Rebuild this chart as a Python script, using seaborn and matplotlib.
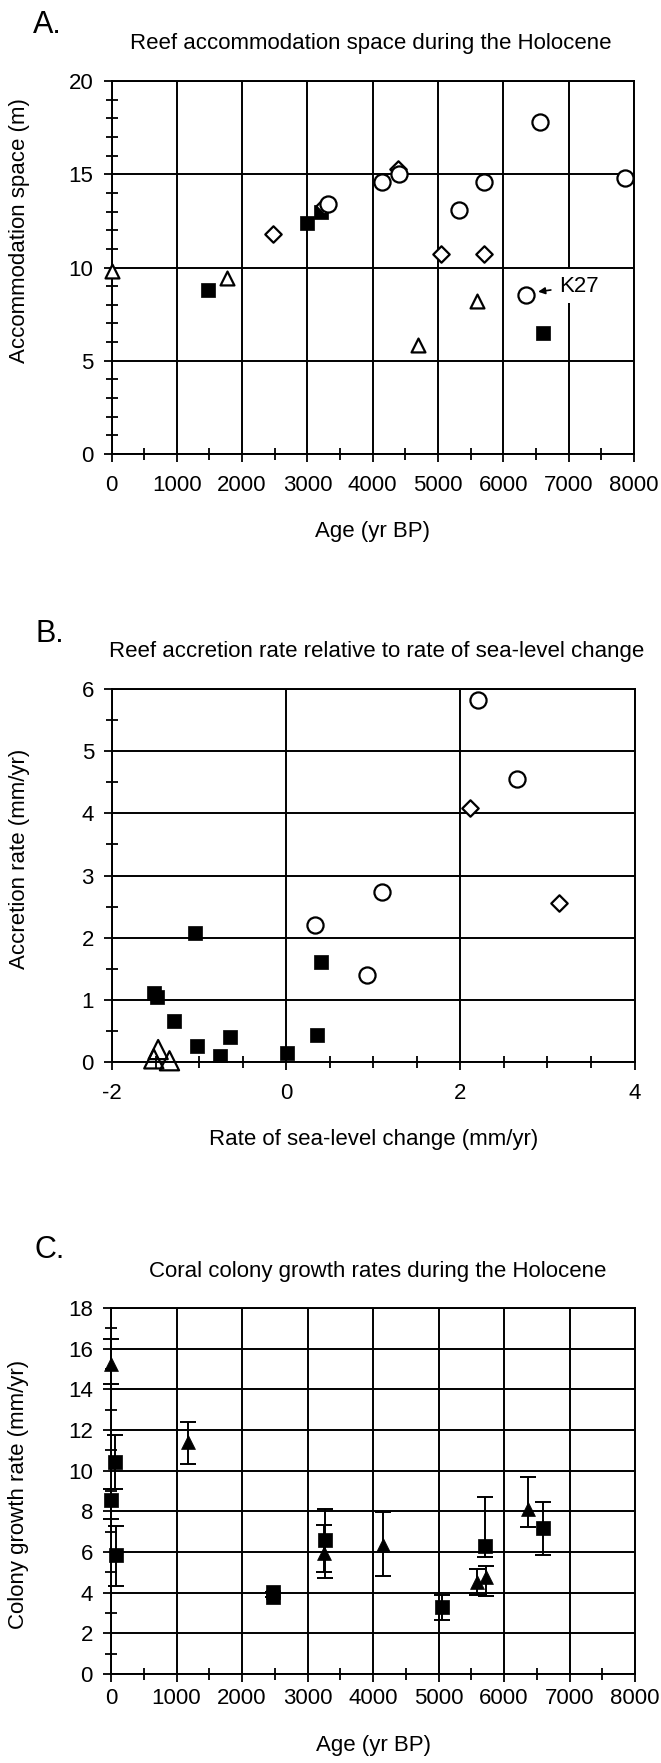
import matplotlib
matplotlib.use("Agg")
import matplotlib.pyplot as plt
from matplotlib.ticker import MultipleLocator
import seaborn as sns
import numpy as np

# ---- Panel A: reef accommodation space vs age ----
a_tri_age = [0, 1774, 4697, 5600]
a_tri_space = [9.8, 9.45, 5.85, 8.2]
a_sq_age = [1471, 2987, 3207, 6600]
a_sq_space = [8.78, 12.36, 13.0, 6.48]
a_dia_age = [2471, 3258, 4387, 5039, 5710]
a_dia_space = [11.8, 13.3, 15.3, 10.7, 10.7]
a_circ_age = [3310, 4142, 4407, 5323, 5710, 6342, 6568, 7858]
a_circ_space = [13.4, 14.6, 15.0, 13.1, 14.6, 8.55, 17.8, 14.8]
k27_index = 5

# ---- Panel B: accretion rate vs rate of sea-level change ----
b_sq_slr = [-1.047, -1.516, -1.482, -1.284, -1.023, -0.756, -0.645, 0.008, 0.357, 0.395]
b_sq_acc = [2.07, 1.11, 1.05, 0.655, 0.25, 0.09, 0.40, 0.145, 0.43, 1.61]
b_tri_slr = [-1.52, -1.47, -1.34]
b_tri_acc = [0.05, 0.20, 0.02]
b_circ_slr = [2.205, 2.645, 1.097, 0.332, 0.923]
b_circ_acc = [5.83, 4.55, 2.73, 2.20, 1.40]
b_dia_slr = [2.113, 3.129]
b_dia_acc = [4.09, 2.55]

# ---- Panel C: coral colony growth rates ----
c_tri_age = [0, 1177, 3250, 4148, 5595, 5722, 6364]
c_tri_rate = [15.26, 11.4, 5.93, 6.33, 4.52, 4.77, 8.12]
c_tri_low = [14.25, 10.34, 5.03, 4.82, 3.87, 3.82, 7.22]
c_tri_high = [16.5, 12.39, 7.32, 7.98, 5.18, 5.3, 9.71]
c_sq_age = [0, 60, 80, 2475, 2475, 3267, 5048, 5711, 6590]
c_sq_rate = [8.56, 10.44, 5.83, 3.78, 4.02, 6.58, 3.30, 6.28, 7.17]
c_sq_low = [7.6, 9.11, 4.32, 3.78, 4.02, 4.70, 2.64, 5.75, 5.86]
c_sq_high = [9.11, 11.77, 7.29, 3.78, 4.02, 8.13, 3.90, 8.70, 8.45]

W, H = 661, 1763
sns.set_theme(style="white")
plt.rcParams["font.family"] = ["Liberation Sans", "DejaVu Sans"]
plt.rcParams["axes.unicode_minus"] = False
plt.rcParams["text.color"] = "black"
plt.rcParams["axes.labelcolor"] = "black"

fig = plt.figure(figsize=(W / 100, H / 100), dpi=100)


def add_ax(left, right, top, bottom):
    return fig.add_axes([left / W, 1 - bottom / H, (right - left) / W, (bottom - top) / H])


def style_axis(ax, xmaj, xmin, ymaj, ymin, xpad):
    ax.xaxis.set_major_locator(MultipleLocator(xmaj))
    ax.xaxis.set_minor_locator(MultipleLocator(xmin))
    ax.yaxis.set_major_locator(MultipleLocator(ymaj))
    ax.yaxis.set_minor_locator(MultipleLocator(ymin))
    ax.grid(which="major", color="black", lw=1.4)
    ax.grid(which="minor", visible=False)
    ax.set_axisbelow(True)
    for s in ax.spines.values():
        s.set_visible(True)
        s.set_color("black")
        s.set_linewidth(1.4)
    ax.tick_params(which="major", direction="out", length=6, width=1.3,
                   labelsize=16, colors="black", bottom=True, left=True)
    ax.tick_params(which="minor", direction="inout", length=9, width=1.3,
                   colors="black", bottom=True, left=True)
    ax.tick_params(axis="y", which="major", pad=7)
    ax.tick_params(axis="x", which="major", pad=xpad)


def labels(ax, xlabel, ylabel, xl_y, yl_y):
    ax.set_xlabel(xlabel, fontsize=16)
    ax.set_ylabel(ylabel, fontsize=16)
    ax.xaxis.set_label_coords(0.5, xl_y)
    ax.xaxis.label.set_va("center")
    ax.yaxis.set_label_coords(-0.177, yl_y)
    ax.yaxis.label.set_va("center")


open_kw = dict(edgecolor="black", linewidth=1.6, clip_on=False, zorder=3)

# ================= A =================
axA = add_ax(111.5, 634, 81, 454)
sns.scatterplot(x=a_sq_age, y=a_sq_space, marker="s", s=95, color="black",
                edgecolor="black", linewidth=0.5, ax=axA, zorder=3)
sns.scatterplot(x=a_dia_age, y=a_dia_space, marker="D", s=70, facecolors="white", ax=axA, **open_kw)
sns.scatterplot(x=a_circ_age, y=a_circ_space, marker="o", s=135, facecolors="white", ax=axA, **open_kw)
sns.scatterplot(x=a_tri_age, y=a_tri_space, marker="^", s=100, facecolors="white", ax=axA, **open_kw)
axA.set_xlim(0, 8000)
axA.set_ylim(0, 20)
style_axis(axA, 1000, 500, 5, 1, 9)
labels(axA, "Age (yr BP)", "Accommodation space (m)", -0.207, 0.60)
axA.annotate("K27", xy=(a_circ_age[k27_index] + 190, a_circ_space[k27_index] + 0.15),
             xytext=(6850, 9.0), fontsize=16, ha="left", va="center",
             bbox=dict(boxstyle="square,pad=0.3", fc="white", ec="none"),
             arrowprops=dict(arrowstyle="-|>", color="black", lw=1.2,
                             mutation_scale=10, shrinkA=1, shrinkB=0), zorder=4)

# ================= B =================
axB = add_ax(112, 634.5, 689, 1062)
sns.scatterplot(x=b_sq_slr, y=b_sq_acc, marker="s", s=95, color="black",
                edgecolor="black", linewidth=0.5, ax=axB, zorder=3)
sns.scatterplot(x=b_circ_slr, y=b_circ_acc, marker="o", s=135, facecolors="white", ax=axB, **open_kw)
sns.scatterplot(x=b_dia_slr, y=b_dia_acc, marker="D", s=70, facecolors="white", ax=axB, **open_kw)
sns.scatterplot(x=b_tri_slr, y=b_tri_acc, marker="^", s=190, facecolors="none", ax=axB, **open_kw)
axB.set_xlim(-2, 4)
axB.set_ylim(0, 6)
style_axis(axB, 2, 0.5, 1, 0.5, 9)
labels(axB, "Rate of sea-level change (mm/yr)", "Accretion rate (mm/yr)", -0.207, 0.545)

# ================= C =================
axC = add_ax(111, 635, 1308, 1674)
c_tri_y = np.array(c_tri_rate)
c_sq_y = np.array(c_sq_rate)
axC.errorbar(c_tri_age, c_tri_y, yerr=[c_tri_y - np.array(c_tri_low), np.array(c_tri_high) - c_tri_y],
             fmt="none", ecolor="black", elinewidth=1.4, capsize=5.5, capthick=1.4, zorder=2, clip_on=False)
axC.errorbar(c_sq_age, c_sq_y, yerr=[c_sq_y - np.array(c_sq_low), np.array(c_sq_high) - c_sq_y],
             fmt="none", ecolor="black", elinewidth=1.4, capsize=5.5, capthick=1.4, zorder=2, clip_on=False)
sns.scatterplot(x=c_sq_age, y=c_sq_rate, marker="s", s=100, color="black",
                edgecolor="black", linewidth=0.5, ax=axC, zorder=3, clip_on=False)
sns.scatterplot(x=c_tri_age, y=c_tri_rate, marker="^", s=100, color="black",
                edgecolor="black", linewidth=0.5, ax=axC, zorder=3, clip_on=False)
axC.set_xlim(0, 8000)
axC.set_ylim(0, 18)
style_axis(axC, 1000, 500, 2, 1, 4)
labels(axC, "Age (yr BP)", "Colony growth rate (mm/yr)", -0.194, 0.49)

# ---- panel letters and titles ----
def fig_text(x, y, s, size, ha="left"):
    fig.text(x / W, 1 - y / H, s, fontsize=size, ha=ha, va="baseline", color="black")

fig_text(33, 33, "A.", 22)
fig_text(371, 49, "Reef accommodation space during the Holocene", 16, ha="center")
fig_text(35, 642, "B.", 22)
fig_text(377, 657, "Reef accretion rate relative to rate of sea-level change", 16, ha="center")
fig_text(35, 1258, "C.", 22)
fig_text(378, 1277, "Coral colony growth rates during the Holocene", 16, ha="center")

fig.savefig("out.png", dpi=100, facecolor="white")
